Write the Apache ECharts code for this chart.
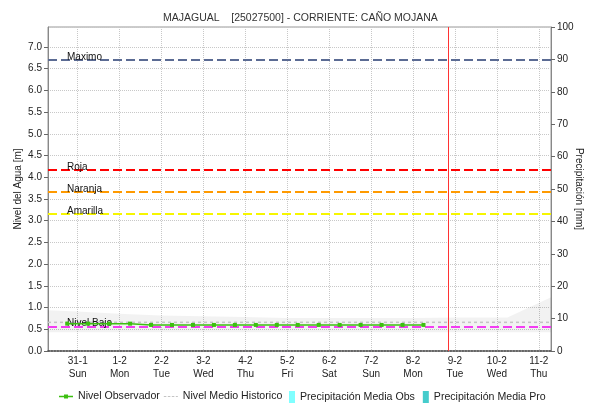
<!DOCTYPE html>
<html>
<head>
<meta charset="utf-8">
<script src="https://cdn.jsdelivr.net/npm/echarts@6/dist/echarts.min.js"></script>
<style>
  html, body { margin: 0; padding: 0; background: #ffffff; }
  #chart { width: 590px; height: 404px; }
</style>
</head>
<body>
<div id="chart"></div>
<script>
// Station and period shown
const titleText = 'MAJAGUAL    [25027500] - CORRIENTE: CAÑO MOJANA';
const xStart = '2021-01-30 07:00';
const xEnd = '2021-02-11 07:00';
const nowMark = '2021-02-08 20:00';
const dayNames = ['Sun', 'Mon', 'Tue', 'Wed', 'Thu', 'Fri', 'Sat'];

// Observed water level [m], every 12 h
const obsTimes = [
  '2021-01-30 18:00', '2021-01-31 06:00', '2021-01-31 18:00', '2021-02-01 06:00',
  '2021-02-01 18:00', '2021-02-02 06:00', '2021-02-02 18:00', '2021-02-03 06:00',
  '2021-02-03 18:00', '2021-02-04 06:00', '2021-02-04 18:00', '2021-02-05 06:00',
  '2021-02-05 18:00', '2021-02-06 06:00', '2021-02-06 18:00', '2021-02-07 06:00',
  '2021-02-07 18:00', '2021-02-08 06:00'
];
const obsLevels = [
  0.63, 0.63, 0.63, 0.63,
  0.60, 0.60, 0.60, 0.60,
  0.60, 0.60, 0.60, 0.60,
  0.60, 0.60, 0.60, 0.60,
  0.60, 0.60
];

// Historic mean level [m]
const histTimes = [xStart, xEnd];
const histMean = [0.66, 0.66];

// Historic range band [m]
const bandTimes = [
  '2021-01-30 07:00', '2021-01-31 00:00', '2021-02-01 00:00', '2021-02-02 00:00',
  '2021-02-03 00:00', '2021-02-04 00:00', '2021-02-05 00:00', '2021-02-06 00:00',
  '2021-02-07 00:00', '2021-02-08 00:00', '2021-02-09 00:00', '2021-02-10 00:00',
  '2021-02-10 06:00', '2021-02-11 07:00'
];
const bandLow = [
  0.43, 0.43, 0.43, 0.43, 0.43, 0.43, 0.43, 0.43, 0.43, 0.43, 0.43, 0.43, 0.43, 0.43
];
const bandHigh = [
  0.94, 0.91, 0.86, 0.82, 0.80, 0.78, 0.76, 0.76, 0.76, 0.76, 0.77, 0.77, 0.77, 1.24
];

// Warning thresholds [m]
const thresholdNames = ['Maximo', 'Roja', 'Naranja', 'Amarilla', 'Nivel Bajo'];
const thresholdValues = [6.70, 4.17, 3.66, 3.16, 0.56];
const thresholdColors = ['#5b6b93', '#ff0000', '#ff9a00', '#f6f600', '#f23cf2'];

// Precipitation [mm] (no records in this period)
const precipObs = [];
const precipPro = [];

// Axis ticks
const levelTicks = { min: 0, max: 7.46, interval: 0.5 };
const rainTicks = { min: 0, max: 100, interval: 10 };

const FONT = '"Liberation Sans", Arial, sans-serif';
const ts = s => new Date(s.replace(' ', 'T')).getTime();
const pairs = (t, v) => t.map((x, i) => [ts(x), v[i]]);

const chart = echarts.init(document.getElementById('chart'), null, { renderer: 'canvas' });

const legendText = { fontFamily: FONT, fontSize: 10.6, color: '#222222' };

chart.setOption({
  animation: false,
  backgroundColor: '#ffffff',
  textStyle: { fontFamily: FONT },
  title: {
    text: titleText,
    left: 158,
    top: 8,
    textStyle: { fontFamily: FONT, fontSize: 10.5, fontWeight: 'normal', color: '#333333' }
  },
  grid: {
    left: 48, right: 39, top: 27, bottom: 53,
    outerBoundsMode: 'none',
    containLabel: false,
    show: true, borderColor: '#999999', borderWidth: 1, backgroundColor: 'transparent'
  },
  legend: [
    {
      left: 54,
      top: 386,
      itemGap: 4,
      itemWidth: 14,
      itemHeight: 12,
      textStyle: legendText,
      data: [
        { name: 'Nivel Observador', icon: 'path://M0,3.2h14v1.3h-14z M5,1.85h4v4h-4z' },
        { name: 'Nivel Medio Historico', icon: 'path://M0,0h2.5v1.2h-2.5z M4,0h2.5v1.2h-2.5z M8,0h2.5v1.2h-2.5z M12,0h2v1.2h-2z' }
      ]
    },
    {
      left: 284,
      top: 386,
      itemGap: 8,
      itemWidth: 6,
      itemHeight: 12,
      textStyle: legendText,
      data: [
        { name: 'Precipitación Media Obs', icon: 'rect' },
        { name: 'Precipitación Media Pro', icon: 'rect' }
      ]
    }
  ],
  xAxis: {
    type: 'time',
    min: ts(xStart),
    max: ts(xEnd),
    minInterval: 86400000,
    maxInterval: 86400000,
    axisLine: { show: true, lineStyle: { color: '#444444', width: 1.5, type: 'dotted' } },
    axisTick: { show: false },
    splitLine: { show: true, lineStyle: { color: '#c8c8c8', type: 'dotted', width: 1 } },
    axisLabel: {
      fontFamily: FONT, fontSize: 10, color: '#222222', lineHeight: 13, margin: 4,
      hideOverlap: false,
      formatter: function (v) {
        const d = new Date(v);
        if (d.getHours() !== 0 || d.getMinutes() !== 0) return '';
        return d.getDate() + '-' + (d.getMonth() + 1) + '\n' + dayNames[d.getDay()];
      }
    }
  },
  yAxis: [
    {
      type: 'value',
      min: levelTicks.min, max: levelTicks.max, interval: levelTicks.interval,
      name: 'Nivel del Agua [m]',
      nameLocation: 'middle',
      nameGap: 25,
      nameMoveOverlap: false,
      nameTextStyle: { fontFamily: FONT, fontSize: 10, color: '#222222' },
      axisLine: { show: true, lineStyle: { color: '#888888' } },
      axisTick: { show: true, length: 4, lineStyle: { color: '#666666' } },
      axisLabel: {
        fontFamily: FONT, fontSize: 10, color: '#222222', margin: 6,
        showMaxLabel: false,
        formatter: v => v.toFixed(1)
      },
      splitLine: { show: true, lineStyle: { color: '#c8c8c8', type: 'dotted' } }
    },
    {
      type: 'value',
      position: 'right',
      min: rainTicks.min, max: rainTicks.max, interval: rainTicks.interval,
      name: 'Precipitación [mm]',
      nameLocation: 'middle',
      nameGap: 23,
      nameMoveOverlap: false,
      nameRotate: -90,
      nameTextStyle: { fontFamily: FONT, fontSize: 10, color: '#222222' },
      axisLine: { show: true, lineStyle: { color: '#888888' } },
      axisTick: { show: true, length: 4, lineStyle: { color: '#666666' } },
      axisLabel: { fontFamily: FONT, fontSize: 10, color: '#222222', margin: 6 },
      splitLine: { show: false }
    }
  ],
  series: [
    {
      name: 'bandBase',
      type: 'line',
      stack: 'band',
      symbol: 'none',
      silent: true,
      lineStyle: { width: 0, opacity: 0 },
      data: pairs(bandTimes, bandLow),
      z: 1
    },
    {
      name: 'bandSpan',
      type: 'line',
      stack: 'band',
      symbol: 'none',
      silent: true,
      lineStyle: { width: 0, opacity: 0 },
      areaStyle: { color: 'rgba(0,0,0,0.07)' },
      data: pairs(bandTimes, bandHigh.map((h, i) => +(h - bandLow[i]).toFixed(2))),
      z: 1
    },
    {
      name: 'Nivel Medio Historico',
      type: 'line',
      symbol: 'none',
      lineStyle: { color: '#c4c4c4', width: 1.5, type: [3, 3] },
      itemStyle: { color: '#c4c4c4' },
      data: pairs(histTimes, histMean),
      z: 2
    },
    {
      name: 'Precipitación Media Obs',
      type: 'line',
      yAxisIndex: 1,
      symbol: 'none',
      itemStyle: { color: '#80ffff' },
      lineStyle: { color: '#80ffff' },
      data: precipObs
    },
    {
      name: 'Precipitación Media Pro',
      type: 'line',
      yAxisIndex: 1,
      symbol: 'none',
      itemStyle: { color: '#45cccc' },
      lineStyle: { color: '#45cccc' },
      data: precipPro
    },
    {
      name: 'thresholds',
      type: 'line',
      data: [],
      silent: true,
      markLine: {
        symbol: ['none', 'none'],
        silent: true,
        animation: false,
        data: thresholdValues.map((v, i) => ({
          yAxis: v,
          name: thresholdNames[i],
          lineStyle: { color: thresholdColors[i], width: 2, type: [9, 4] },
          label: {
            show: true,
            formatter: thresholdNames[i],
            position: 'insideStartTop',
            distance: [19, -2],
            fontFamily: FONT, fontSize: 10, color: '#111111'
          }
        })).concat([{
          xAxis: ts(nowMark),
          lineStyle: { color: '#ff3333', width: 1, type: 'solid' },
          label: { show: false }
        }])
      },
      z: 3
    },
    {
      name: 'Nivel Observador',
      type: 'line',
      symbol: 'rect',
      symbolSize: 4,
      lineStyle: { color: '#3cbf10', width: 1.5 },
      itemStyle: { color: '#3cbf10' },
      data: pairs(obsTimes, obsLevels),
      z: 5
    }
  ]
});
</script>
</body>
</html>
